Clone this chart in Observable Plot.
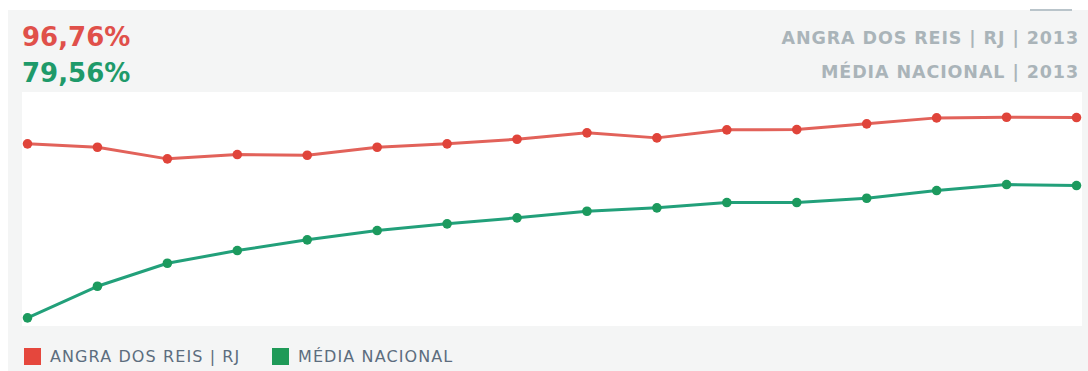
<!DOCTYPE html>
<html>
<head>
<meta charset="utf-8">
<script src="https://cdn.jsdelivr.net/npm/d3@7"></script>
<script src="https://cdn.jsdelivr.net/npm/@observablehq/plot@0.6"></script>
<style>
  html, body { margin: 0; padding: 0; background: #ffffff; }
  #wrap { position: relative; width: 1088px; height: 371px; overflow: hidden; font-family: "DejaVu Sans", Verdana, sans-serif; }
  #panel { position: absolute; left: 8px; top: 10px; width: 1080px; height: 361px; background: #f4f5f5; }
  #tab { position: absolute; left: 1030px; top: 9px; width: 42px; height: 2px; background: #b9c4ca; }
  .big { position: absolute; left: 22px; font-weight: bold; font-size: 26px; line-height: 1; }
  .right { position: absolute; right: 9px; font-weight: bold; font-size: 17.5px; letter-spacing: 0.9px; color: #aab4b9; line-height: 1; white-space: nowrap; }
  #plot { position: absolute; left: 22px; top: 92px; width: 1060px; height: 234px; background: #ffffff; }
  .leg { position: absolute; top: 347px; display: flex; align-items: center; font-size: 16px; letter-spacing: 1.1px; color: #5c6d7e; white-space: nowrap; }
  .sw { width: 17px; height: 17px; margin-right: 9px; }
</style>
</head>
<body>
<div id="wrap">
  <div id="panel"></div>
  <div id="tab"></div>
  <div class="big" id="v1" style="top:24px;color:#e0504a;"></div>
  <div class="big" id="v2" style="top:60px;color:#1e9a6a;"></div>
  <div class="right" id="r1" style="top:30px;"></div>
  <div class="right" id="r2" style="top:64px;"></div>
  <div id="plot"></div>
  <div class="leg" style="left:24px;"><div class="sw" style="background:#e5473d;"></div><span id="l1"></span></div>
  <div class="leg" style="left:272px;"><div class="sw" style="background:#1f9a58;"></div><span id="l2"></span></div>
</div>
<script>
const years = [1998,1999,2000,2001,2002,2003,2004,2005,2006,2007,2008,2009,2010,2011,2012,2013];
const angra = [90.11,89.25,86.31,87.40,87.22,89.25,90.11,91.27,92.89,91.62,93.65,93.72,95.17,96.68,96.84,96.76];
const media = [46.09,54.08,59.90,63.11,65.82,68.17,69.87,71.39,73.06,73.92,75.26,75.26,76.35,78.29,79.81,79.56];
const seriesNames = ["ANGRA DOS REIS | RJ", "MÉDIA NACIONAL"];
const headerLabels = ["ANGRA DOS REIS | RJ | 2013", "MÉDIA NACIONAL | 2013"];
const lineColors = ["#e2625a", "#22a07a"];
const dotColors = ["#e0443a", "#1c9a5e"];

const fmt = v => v.toFixed(2).replace(".", ",") + "%";
document.getElementById("v1").textContent = fmt(angra[angra.length - 1]);
document.getElementById("v2").textContent = fmt(media[media.length - 1]);
document.getElementById("r1").textContent = headerLabels[0];
document.getElementById("r2").textContent = headerLabels[1];
document.getElementById("l1").textContent = seriesNames[0];
document.getElementById("l2").textContent = seriesNames[1];

const rows = [];
years.forEach((y, i) => {
  rows.push({year: y, value: angra[i], s: seriesNames[0]});
  rows.push({year: y, value: media[i], s: seriesNames[1]});
});

const chart = Plot.plot({
  width: 1060,
  height: 234,
  marginLeft: 5,
  marginRight: 6,
  marginTop: 0,
  marginBottom: 0,
  style: {background: "transparent"},
  x: {domain: [1998, 2013], axis: null},
  y: {domain: [43.9, 103.1], axis: null},
  color: {domain: seriesNames, range: lineColors},
  marks: [
    Plot.line(rows, {x: "year", y: "value", z: "s", stroke: "s", strokeWidth: 3}),
    Plot.dot(rows, {x: "year", y: "value", fill: d => d.s === seriesNames[0] ? dotColors[0] : dotColors[1], r: 4.8, stroke: "none"})
  ]
});
document.getElementById("plot").appendChild(chart);
</script>
</body>
</html>
